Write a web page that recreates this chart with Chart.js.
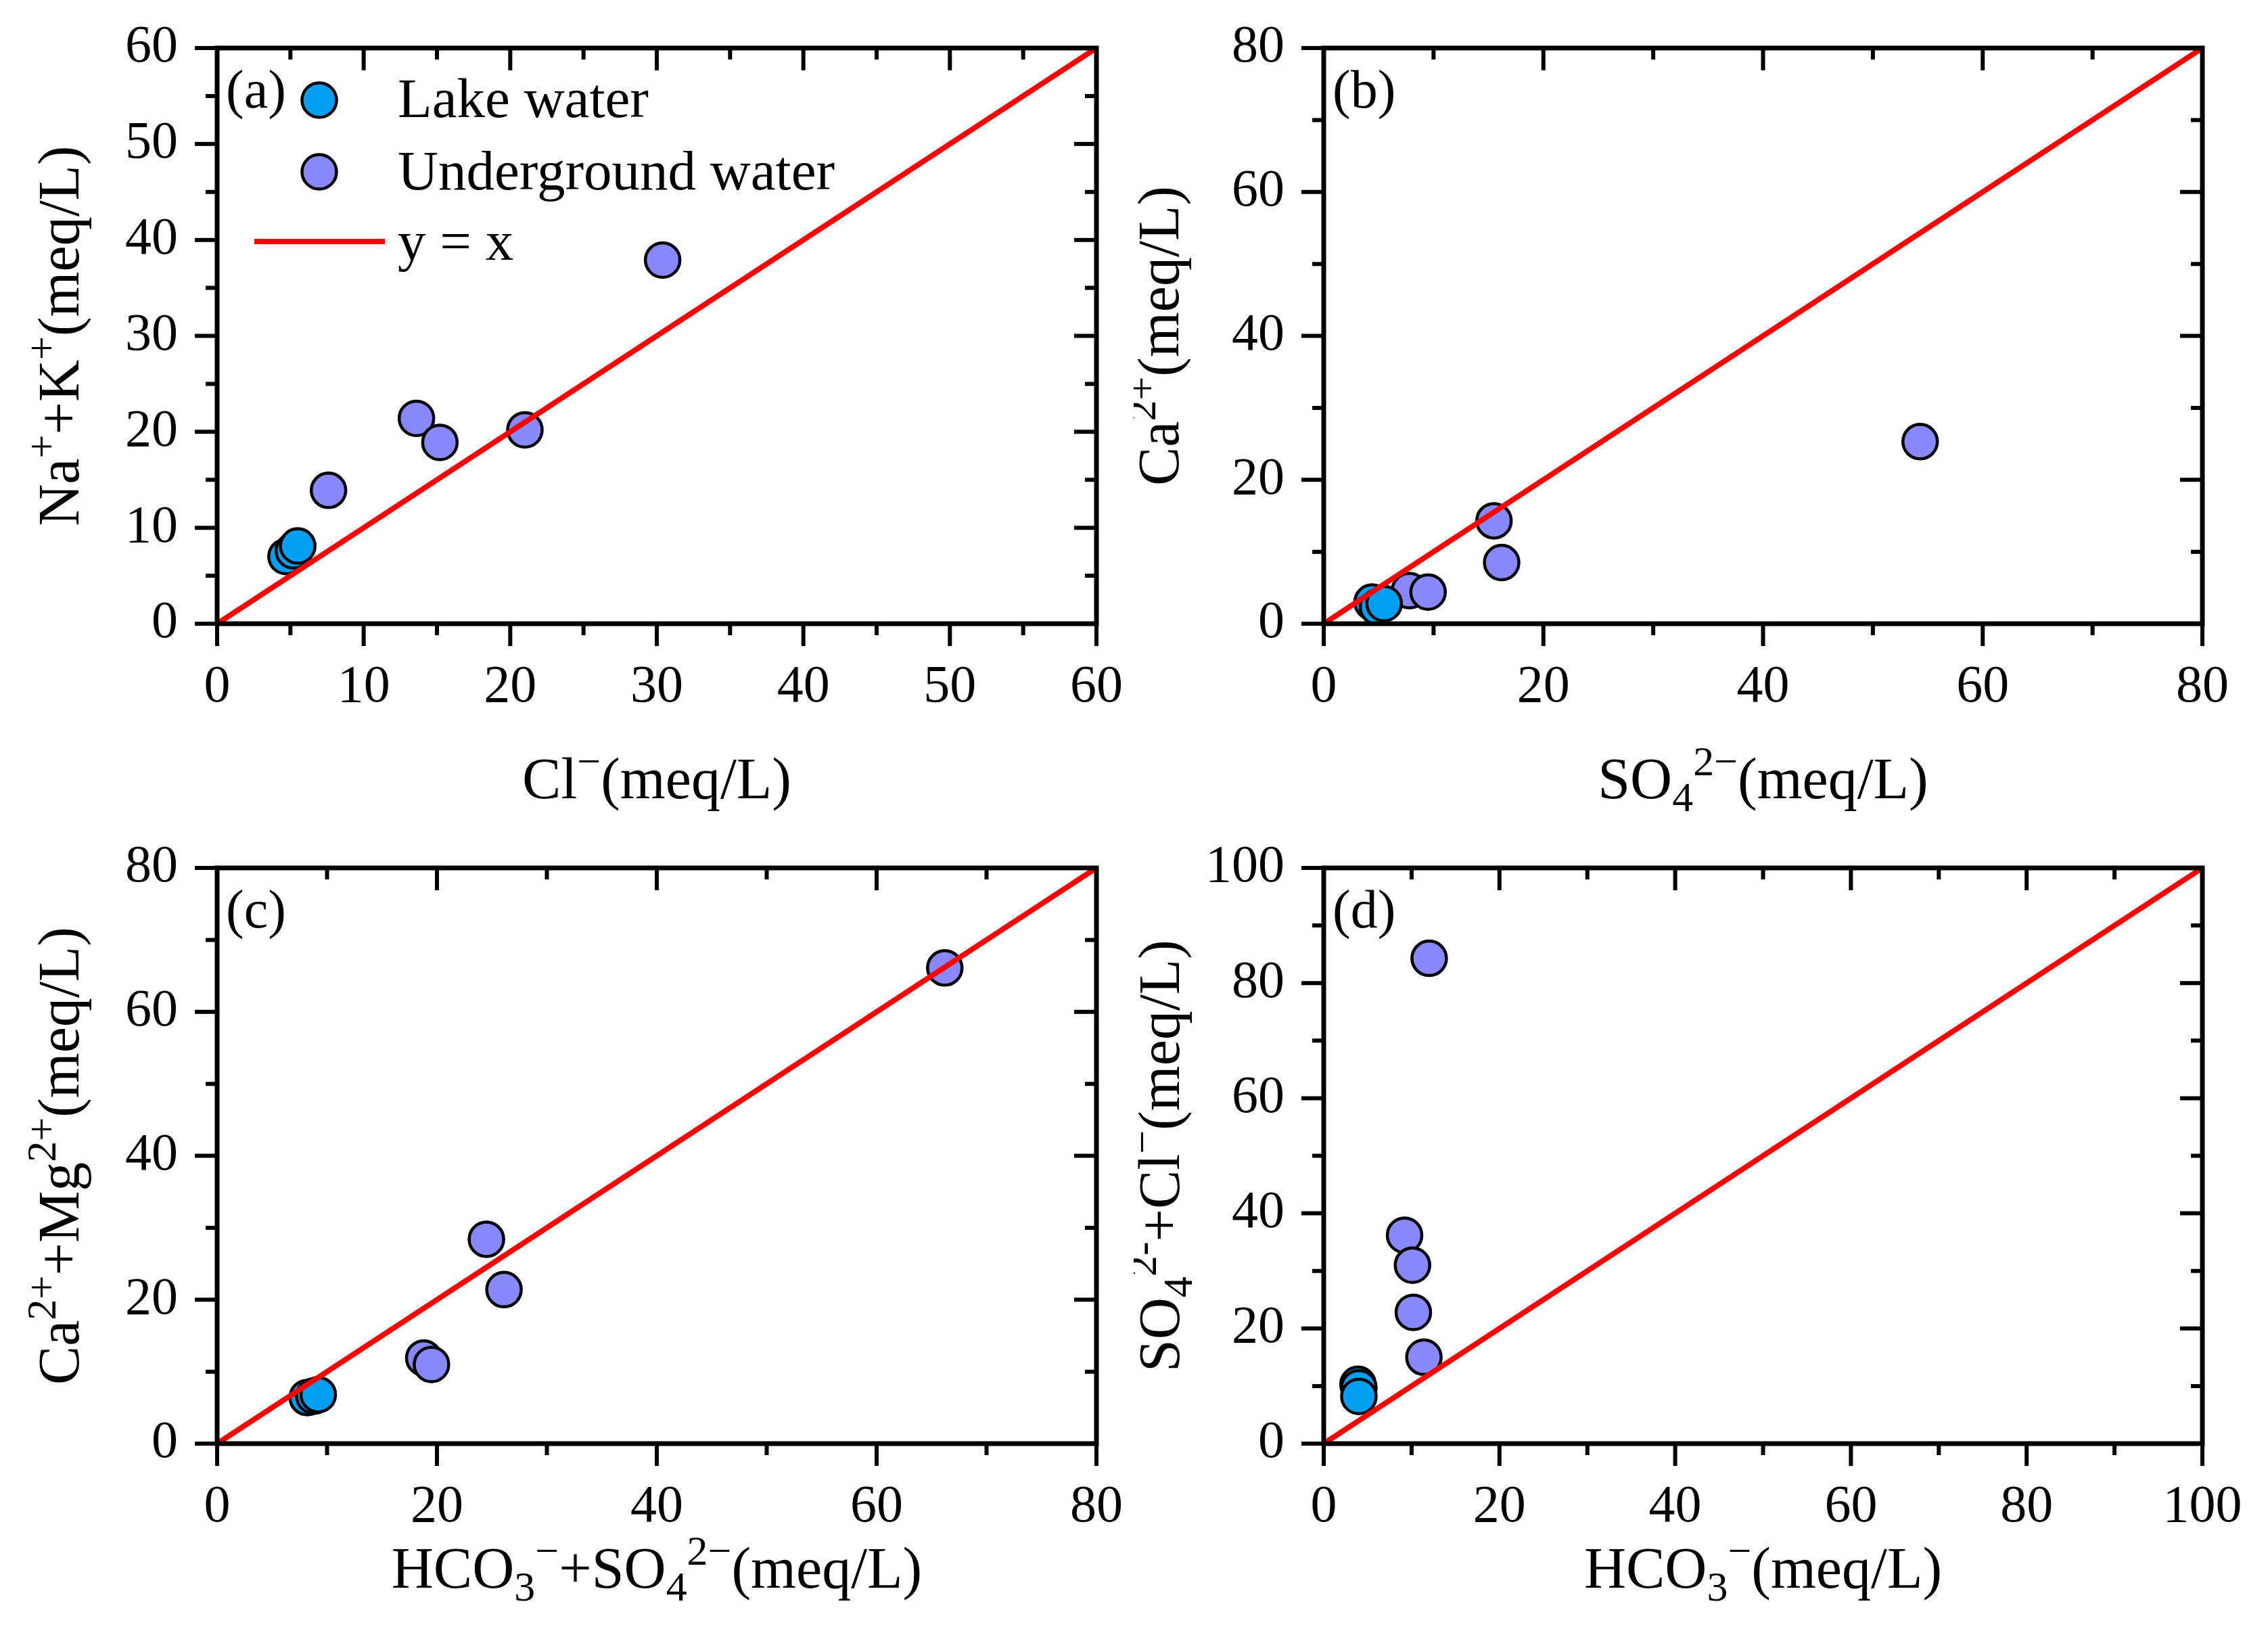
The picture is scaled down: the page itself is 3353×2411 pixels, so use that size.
<!DOCTYPE html>
<html>
<head>
<meta charset="utf-8">
<script src="https://cdn.jsdelivr.net/npm/chart.js@4.4.1/dist/chart.umd.min.js"></script>
<style>
html,body{margin:0;padding:0;background:#fff;}
#page{position:relative;width:3353px;height:2411px;background:#fff;overflow:hidden;}
.panel{position:absolute;}
</style>
</head>
<body>
<div id="page">
  <div class="panel" id="pa"><canvas id="ca"></canvas></div>
  <div class="panel" id="pb"><canvas id="cb"></canvas></div>
  <div class="panel" id="pc"><canvas id="cc"></canvas></div>
  <div class="panel" id="pd"><canvas id="cd"></canvas></div>
</div>
<script>
// ---------------- DATA ----------------
const seriesNames = ['Lake water', 'Underground water', 'y = x'];

// (a) Cl- vs Na+ + K+
const aLakeX   = [4.7, 5.2, 5.5];
const aLakeY   = [7.0, 7.6, 8.1];
const aGroundX = [7.6, 13.6, 15.2, 21.0, 30.4];
const aGroundY = [13.9, 21.4, 18.9, 20.2, 37.9];
const aLine    = [0, 60];
const aMajor   = [0, 10, 20, 30, 40, 50, 60];
const aMinor   = [5, 15, 25, 35, 45, 55];

// (b) SO4 2- vs Ca 2+
const bLakeX   = [4.4, 4.9, 5.5];
const bLakeY   = [3.0, 2.3, 2.8];
const bGroundX = [7.8, 9.5, 15.5, 16.2, 54.3];
const bGroundY = [4.6, 4.4, 14.3, 8.5, 25.3];
const bLine    = [0, 80];
const bMajor   = [0, 20, 40, 60, 80];
const bMinor   = [10, 30, 50, 70];

// (c) HCO3- + SO4 2- vs Ca2+ + Mg2+
const cLakeX   = [8.2, 8.8, 9.2];
const cLakeY   = [6.4, 6.6, 6.8];
const cGroundX = [18.8, 19.5, 24.5, 26.1, 66.2];
const cGroundY = [11.9, 11.0, 28.4, 21.4, 66.1];
const cLine    = [0, 80];
const cMajor   = [0, 20, 40, 60, 80];
const cMinor   = [10, 30, 50, 70];

// (d) HCO3- vs SO4 2- + Cl-
const dLakeX   = [3.9, 4.0, 4.0];
const dLakeY   = [10.3, 9.7, 8.2];
const dGroundX = [12.0, 9.2, 10.1, 10.2, 11.4];
const dGroundY = [84.3, 36.2, 31.0, 22.8, 15.0];
const dLine    = [0, 100];
const dMajor   = [0, 20, 40, 60, 80, 100];
const dMinor   = [10, 30, 50, 70, 90];

// ---------------- STYLE ----------------
const FONT = '"Liberation Serif", "Times New Roman", serif';
const LAKE_COLOR = 'rgb(0,158,240)';
const GROUND_COLOR = 'rgb(136,136,250)';
const LINE_COLOR = '#ff0000';

function pts(xs, ys) { return xs.map((v, i) => ({x: v, y: ys[i]})); }

function drawRich(ctx, segs, size) {
  const parts = segs.map(([t, k]) => {
    const fs = k ? size * 0.72 : size;
    ctx.font = fs + 'px ' + FONT;
    return {t, k, fs, w: ctx.measureText(t).width};
  });
  const total = parts.reduce((s, p) => s + p.w, 0);
  let x = -total / 2;
  parts.forEach(p => {
    ctx.font = p.fs + 'px ' + FONT;
    const dy = p.k === 'sup' ? -size * 0.40 : (p.k === 'sub' ? size * 0.22 : 0);
    ctx.fillText(p.t, x, dy);
    x += p.w;
  });
}

const framePlugin = {
  id: 'frameTicks',
  afterDatasetsDraw(chart, args, o) {
    const {ctx, chartArea: {left, right, top, bottom}, scales: {x, y}} = chart;
    ctx.save();
    ctx.strokeStyle = '#000';
    ctx.lineCap = 'butt';
    ctx.lineWidth = 6;
    const MAJ = 33, MIN = 17;
    const vt = (v, len) => {
      const px = x.getPixelForValue(v);
      ctx.beginPath();
      ctx.moveTo(px, bottom); ctx.lineTo(px, bottom + len);
      ctx.moveTo(px, top); ctx.lineTo(px, top + len);
      ctx.stroke();
    };
    const ht = (v, len) => {
      const py = y.getPixelForValue(v);
      ctx.beginPath();
      ctx.moveTo(left, py); ctx.lineTo(left - len, py);
      ctx.moveTo(right, py); ctx.lineTo(right - len, py);
      ctx.stroke();
    };
    o.major.forEach(v => { vt(v, MAJ); ht(v, MAJ); });
    o.minor.forEach(v => { vt(v, MIN); ht(v, MIN); });
    ctx.lineWidth = 7;
    ctx.lineJoin = 'miter';
    ctx.strokeRect(left, top, right - left, bottom - top);

    // panel label
    ctx.fillStyle = '#000';
    ctx.textAlign = 'left';
    ctx.textBaseline = 'alphabetic';
    ctx.font = '80px ' + FONT;
    ctx.fillText(o.label, left + 13, top + 88);

    // axis titles
    ctx.save();
    ctx.translate((left + right) / 2, bottom + o.xTitleOffset);
    drawRich(ctx, o.xTitle, 86);
    ctx.restore();
    ctx.save();
    ctx.translate(left - o.yTitleOffset, (top + bottom) / 2);
    ctx.rotate(-Math.PI / 2);
    drawRich(ctx, o.yTitle, 86);
    ctx.restore();

    // inset legend
    if (o.legend) {
      const ds = chart.data.datasets;
      ctx.font = '83px ' + FONT;
      ctx.textAlign = 'left';
      const rows = [[0, 77, 102], [1, 183, 209]];
      rows.forEach(([i, cy, by]) => {
        ctx.beginPath();
        ctx.arc(left + 151, top + cy, ds[i].pointRadius, 0, Math.PI * 2);
        ctx.fillStyle = ds[i].backgroundColor;
        ctx.fill();
        ctx.lineWidth = ds[i].pointBorderWidth;
        ctx.strokeStyle = ds[i].pointBorderColor;
        ctx.stroke();
        ctx.fillStyle = '#000';
        ctx.fillText(ds[i].label, left + 267, top + by);
      });
      ctx.beginPath();
      ctx.strokeStyle = ds[2].borderColor;
      ctx.lineWidth = ds[2].borderWidth;
      ctx.moveTo(left + 55, top + 286);
      ctx.lineTo(left + 248, top + 286);
      ctx.stroke();
      ctx.fillStyle = '#000';
      ctx.fillText(ds[2].label, left + 267, top + 313);
    }
    ctx.restore();
  }
};

function makePanel(cfg) {
  const div = document.getElementById(cfg.div);
  div.style.left = cfg.box[0] + 'px';
  div.style.top = cfg.box[1] + 'px';
  div.style.width = cfg.box[2] + 'px';
  div.style.height = cfg.box[3] + 'px';
  const area = cfg.area; // left, top, right, bottom in page px
  const padTop = area[1] - cfg.box[1];
  const padRight = cfg.box[0] + cfg.box[2] - area[2];
  const yW = area[0] - cfg.box[0];
  const xH = cfg.box[1] + cfg.box[3] - area[3];
  const tickFont = {family: FONT, size: 78, lineHeight: 1};
  const setTicks = (arr) => (s) => { s.ticks = arr.map(v => ({value: v})); };
  new Chart(document.getElementById(cfg.canvas), {
    type: 'scatter',
    data: {
      datasets: [
        {label: seriesNames[0], data: pts(cfg.lakeX, cfg.lakeY), backgroundColor: LAKE_COLOR,
         pointBorderColor: '#000', pointBorderWidth: 4.5, pointRadius: 25.5, order: 1},
        {label: seriesNames[1], data: pts(cfg.groundX, cfg.groundY), backgroundColor: GROUND_COLOR,
         pointBorderColor: '#000', pointBorderWidth: 4.5, pointRadius: 25.5, order: 2},
        {label: seriesNames[2], data: pts(cfg.line, cfg.line), showLine: true, borderColor: LINE_COLOR,
         borderWidth: 8, pointRadius: 0, order: 0, fill: false}
      ]
    },
    options: {
      responsive: true,
      maintainAspectRatio: false,
      animation: false,
      events: [],
      layout: {padding: {top: padTop, right: padRight, left: 0, bottom: 0}},
      plugins: {
        legend: {display: false},
        tooltip: {enabled: false},
        frameTicks: {major: cfg.major, minor: cfg.minor, label: cfg.label,
          xTitle: cfg.xTitle, yTitle: cfg.yTitle, xTitleOffset: cfg.xTitleOffset,
          yTitleOffset: cfg.yTitleOffset, legend: !!cfg.legend}
      },
      scales: {
        x: {
          type: 'linear', position: 'bottom', min: cfg.line[0], max: cfg.line[1],
          afterBuildTicks: setTicks(cfg.major),
          ticks: {font: tickFont, color: '#000', padding: 56, maxRotation: 0, autoSkip: false},
          grid: {display: false, drawTicks: false},
          border: {display: false},
          afterFit: (s) => { s.height = xH; s.paddingLeft = 0; s.paddingRight = 0; }
        },
        y: {
          type: 'linear', position: 'left', min: cfg.line[0], max: cfg.line[1],
          afterBuildTicks: setTicks(cfg.major),
          ticks: {font: tickFont, color: '#000', padding: 58, autoSkip: false},
          grid: {display: false, drawTicks: false},
          border: {display: false},
          afterFit: (s) => { s.width = yW; s.paddingTop = 0; s.paddingBottom = 0; }
        }
      }
    },
    plugins: [framePlugin]
  });
}

makePanel({div: 'pa', canvas: 'ca', box: [0, 0, 1672, 1205], area: [321, 71, 1621, 922],
  lakeX: aLakeX, lakeY: aLakeY, groundX: aGroundX, groundY: aGroundY, line: aLine,
  major: aMajor, minor: aMinor, label: '(a)', legend: true,
  xTitle: [['Cl', ''], ['\u2212', 'sup'], ['(meq/L)', '']],
  yTitle: [['Na', ''], ['+', 'sup'], ['+K', ''], ['+', 'sup'], ['(meq/L)', '']],
  xTitleOffset: 258, yTitleOffset: 205});

makePanel({div: 'pb', canvas: 'cb', box: [1676, 0, 1677, 1205], area: [1957, 71, 3256, 922],
  lakeX: bLakeX, lakeY: bLakeY, groundX: bGroundX, groundY: bGroundY, line: bLine,
  major: bMajor, minor: bMinor, label: '(b)',
  xTitle: [['SO', ''], ['4', 'sub'], ['2\u2212', 'sup'], ['(meq/L)', '']],
  yTitle: [['Ca', ''], ['2+', 'sup'], ['(meq/L)', '']],
  xTitleOffset: 258, yTitleOffset: 215});

makePanel({div: 'pc', canvas: 'cc', box: [0, 1205, 1672, 1206], area: [321, 1283, 1621, 2134],
  lakeX: cLakeX, lakeY: cLakeY, groundX: cGroundX, groundY: cGroundY, line: cLine,
  major: cMajor, minor: cMinor, label: '(c)',
  xTitle: [['HCO', ''], ['3', 'sub'], ['\u2212', 'sup'], ['+SO', ''], ['4', 'sub'], ['2\u2212', 'sup'], ['(meq/L)', '']],
  yTitle: [['Ca', ''], ['2+', 'sup'], ['+Mg', ''], ['2+', 'sup'], ['(meq/L)', '']],
  xTitleOffset: 213, yTitleOffset: 205});

makePanel({div: 'pd', canvas: 'cd', box: [1676, 1205, 1677, 1206], area: [1957, 1283, 3256, 2134],
  lakeX: dLakeX, lakeY: dLakeY, groundX: dGroundX, groundY: dGroundY, line: dLine,
  major: dMajor, minor: dMinor, label: '(d)',
  xTitle: [['HCO', ''], ['3', 'sub'], ['\u2212', 'sup'], ['(meq/L)', '']],
  yTitle: [['SO', ''], ['4', 'sub'], ['2-', 'sup'], ['+Cl', ''], ['\u2212', 'sup'], ['(meq/L)', '']],
  xTitleOffset: 213, yTitleOffset: 214});
</script>
</body>
</html>
